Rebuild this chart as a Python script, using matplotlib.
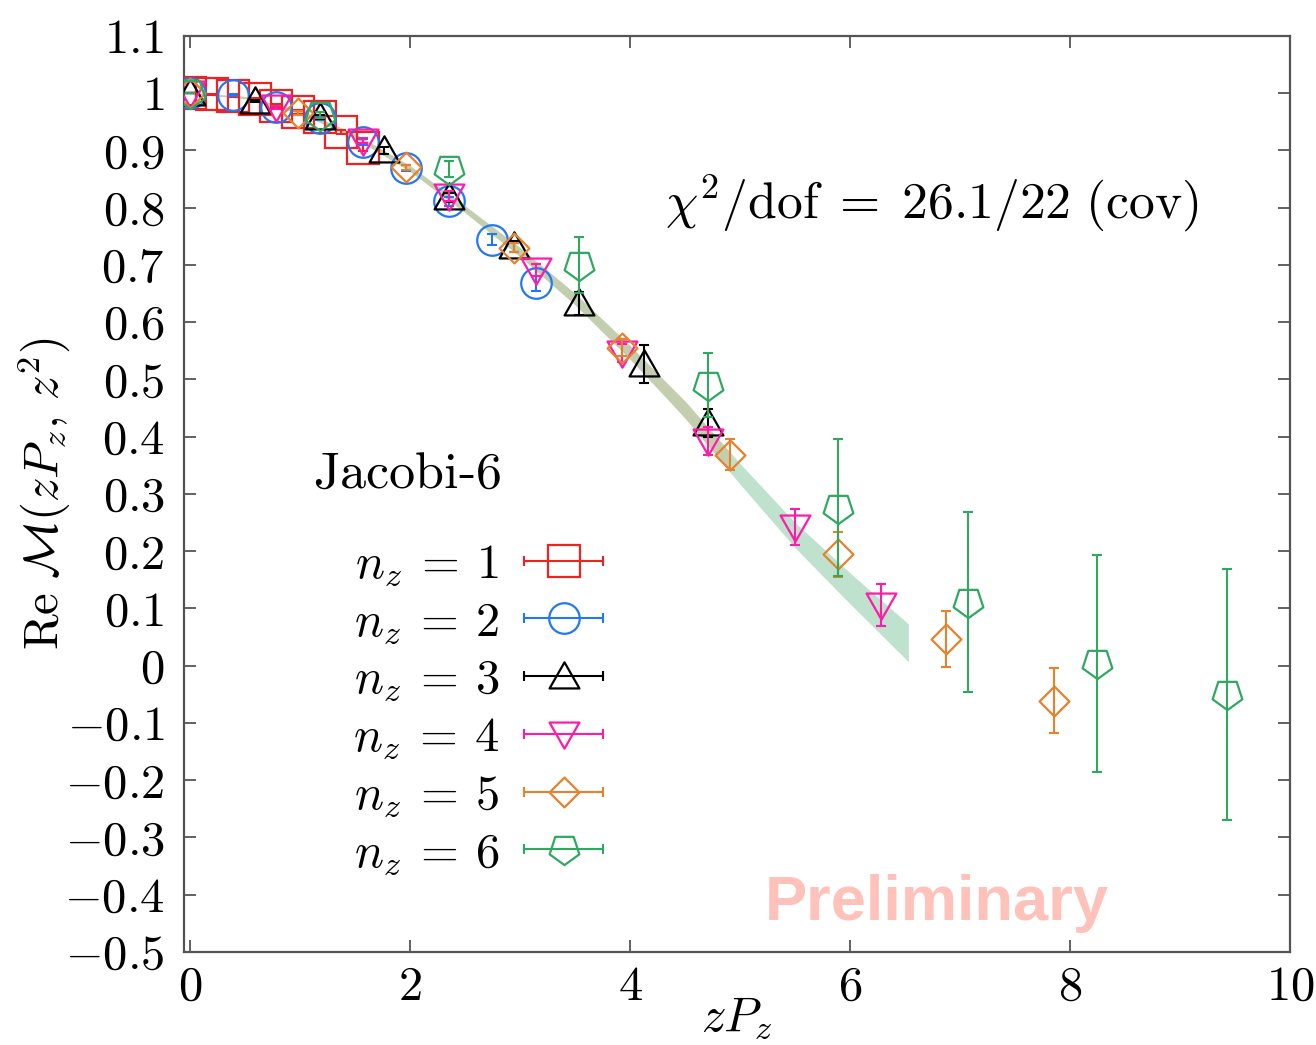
import numpy as np
import matplotlib
matplotlib.use('Agg')
import matplotlib.pyplot as plt
from matplotlib.lines import Line2D
from matplotlib.path import Path
from matplotlib.legend_handler import HandlerBase

plt.rcParams['mathtext.fontset'] = 'cm'
plt.rcParams['font.family'] = ['cmr10', 'DejaVu Sans']
plt.rcParams['axes.formatter.use_mathtext'] = True

# ---------------- data ----------------
labels = [r"$n_z\:=\:1$", r"$n_z\:=\:2$", r"$n_z\:=\:3$", r"$n_z\:=\:4$", r"$n_z\:=\:5$", r"$n_z\:=\:6$"]

x_n1 = [0.0, 0.196, 0.393, 0.589, 0.785, 0.982, 1.178, 1.374, 1.571]
y_n1 = [1.0, 0.998, 0.995, 0.990, 0.977, 0.967, 0.958, 0.932, 0.904]
e_n1 = [0.0, 0.001, 0.002, 0.002, 0.003, 0.003, 0.004, 0.004, 0.005]

x_n2 = [0.0, 0.393, 0.785, 1.178, 1.571, 1.963, 2.356, 2.749, 3.142]
y_n2 = [1.0, 0.996, 0.975, 0.956, 0.915, 0.869, 0.811, 0.744, 0.668]
e_n2 = [0.0, 0.002, 0.003, 0.004, 0.005, 0.006, 0.008, 0.009, 0.013]

x_n3 = [0.0, 0.589, 1.178, 1.767, 2.356, 2.945, 3.534, 4.123, 4.712]
y_n3 = [1.0, 0.986, 0.958, 0.900, 0.818, 0.732, 0.633, 0.527, 0.424]
e_n3 = [0.0, 0.002, 0.004, 0.006, 0.008, 0.010, 0.020, 0.033, 0.025]

x_n4 = [0.0, 0.785, 1.571, 2.356, 3.142, 3.927, 4.712, 5.498, 6.283]
y_n4 = [1.0, 0.975, 0.917, 0.820, 0.691, 0.546, 0.392, 0.242, 0.106]
e_n4 = [0.0, 0.003, 0.005, 0.008, 0.010, 0.015, 0.025, 0.031, 0.037]

x_n5 = [0.0, 0.982, 1.963, 2.945, 3.927, 4.909, 5.890, 6.872, 7.854]
y_n5 = [1.0, 0.965, 0.870, 0.730, 0.555, 0.368, 0.1945, 0.047, -0.061]
e_n5 = [0.0, 0.003, 0.005, 0.008, 0.015, 0.027, 0.039, 0.049, 0.057]

x_n6 = [0.0, 1.178, 2.356, 3.534, 4.712, 5.890, 7.069, 8.247, 9.425]
y_n6 = [1.0, 0.962, 0.867, 0.700, 0.490, 0.276, 0.1105, 0.004, -0.050]
e_n6 = [0.0, 0.005, 0.014, 0.049, 0.056, 0.120, 0.157, 0.190, 0.219]

# fit band
band_x = [0.0, 0.5, 1.0, 1.5, 2.0, 2.5, 3.0, 3.5, 4.0, 4.3, 4.5, 4.91, 5.0, 5.5, 6.0, 6.53]
band_c = [1.0, 0.992, 0.967, 0.925, 0.868, 0.797, 0.722, 0.640, 0.547, 0.487, 0.447, 0.355, 0.335, 0.228, 0.135, 0.040]
band_h = [0.001, 0.002, 0.003, 0.004, 0.005, 0.006, 0.008, 0.010, 0.012, 0.0135, 0.015, 0.0175, 0.018, 0.022, 0.027, 0.033]

yticks = [1.1, 1.0, 0.9, 0.8, 0.7, 0.6, 0.5, 0.4, 0.3, 0.2, 0.1, 0.0, -0.1, -0.2, -0.3, -0.4, -0.5]
ytick_labels = ["1.1", "1", "0.9", "0.8", "0.7", "0.6", "0.5", "0.4", "0.3", "0.2", "0.1", "0",
                "-0.1", "-0.2", "-0.3", "-0.4", "-0.5"]
xticks = [0, 2, 4, 6, 8, 10]
xtick_labels = ["0", "2", "4", "6", "8", "10"]

# ---------------- style ----------------
colors = ['#ee2222', '#2277f5', '#000000', '#ff1aa8', '#e8812c', '#30a860']

tri_up = Path([(-1, -0.8), (1, -0.8), (0, 0.95), (-1, -0.8)], closed=True)
tri_dn = Path([(-1, 0.8), (1, 0.8), (0, -0.95), (-1, 0.8)], closed=True)
diamond = Path([(0, 1), (1, 0), (0, -1), (-1, 0), (0, 1)], closed=True)
ang = np.deg2rad(-90 + 72 * np.arange(5))
pent_v = [(np.cos(a), np.sin(a)) for a in ang]
pentagon = Path(pent_v + [pent_v[0]], closed=True)

markers = ['s', 'o', tri_up, tri_dn, diamond, pentagon]
msizes = [23, 22, 21.5, 21.5, 21.5, 22.5]

FS = 35

fig = plt.figure(figsize=(13.16, 10.45), dpi=100)
ax = fig.add_axes([184 / 1316, 1 - 952 / 1045, (1290 - 184) / 1316, (952 - 35.7) / 1045])

bx = np.array(band_x)
bc = np.array(band_c)
bh = np.array(band_h)
ax.fill_between(bx, bc - bh, bc + bh, color='#2ca25f', alpha=0.3, lw=0, zorder=1)
ax.fill_between(bx, bc - bh, bc + bh, where=bx <= 4.91, color='#d08030', alpha=0.2, lw=0, zorder=1)

xs = [x_n1, x_n2, x_n3, x_n4, x_n5, x_n6]
ys = [y_n1, y_n2, y_n3, y_n4, y_n5, y_n6]
es = [e_n1, e_n2, e_n3, e_n4, e_n5, e_n6]

handles = []
for i in range(6):
    ax.errorbar(xs[i], ys[i], yerr=es[i], fmt='none', ecolor=colors[i], elinewidth=1.5,
                capsize=3.7, capthick=1.5, zorder=3 + i)
    ln, = ax.plot(xs[i], ys[i], ls='none', marker=markers[i], ms=msizes[i], mfc='none',
                  mec=colors[i], mew=1.6, zorder=3 + i)
    handles.append((ln, colors[i]))


class HandlerEB(HandlerBase):
    def create_artists(self, legend, orig_handle, xdescent, ydescent, width, height, fontsize, trans):
        ln, c = orig_handle
        y = (height - ydescent) / 2
        x0, x1 = -xdescent, width - xdescent
        bar = Line2D([x0, x1], [y, y], color=c, lw=1.5, marker='|', markersize=7.4, mew=1.5)
        mk = Line2D([(x0 + x1) / 2], [y], ls='none', marker=ln.get_marker(), markersize=ln.get_markersize(),
                    mfc='none', mec=c, mew=1.6)
        bar.set_transform(trans)
        mk.set_transform(trans)
        return [bar, mk]


class EBProxy(tuple):
    pass


proxies = [EBProxy(h) for h in handles]
leg = ax.legend(proxies, labels, handler_map={EBProxy: HandlerEB()}, loc='center left',
                bbox_to_anchor=((353 - 184) / 1106, (952 - 710) / 916.3), frameon=False,
                markerfirst=False, fontsize=FS, handlelength=1.63, handletextpad=0.5,
                labelspacing=0.27, borderpad=0, borderaxespad=0)

ax.text((313 - 184) / 1106, (952 - 488) / 916.3, r"$\mathrm{Jacobi}$-6", transform=ax.transAxes,
        fontsize=37.5, va='baseline', ha='left', family=['cmr10', 'DejaVu Sans'])
ax.text((665 - 184) / 1106, (952 - 218) / 916.3, r"$\chi^2/\mathrm{dof}\;=\;26.1/22\ (\mathrm{cov})$",
        transform=ax.transAxes, fontsize=37.2, va='baseline', ha='left')
ax.text((765 - 184) / 1106, (952 - 920) / 916.3, "Preliminary", transform=ax.transAxes,
        fontsize=45.5, fontweight='bold', color='#ffc2ba', family='Liberation Sans',
        va='baseline', ha='left', zorder=2)

ax.set_xlim(-0.055, 10)
ax.set_ylim(-0.5, 1.1)
ax.set_xticks(xticks)
ax.set_xticklabels(["$" + s + "$" for s in xtick_labels])
ax.set_yticks(yticks)
ax.set_yticklabels(["$" + s + "$" for s in ytick_labels])
ax.tick_params(direction='in', length=8.5, width=1.3, color='#555555', labelsize=FS,
               top=True, right=True, pad=10)
ax.tick_params(axis='y', pad=14)
ax.minorticks_off()
for s in ax.spines.values():
    s.set_color('#555555')
    s.set_linewidth(1.6)

ax.set_xlabel(r"$zP_z$", fontsize=FS)
ax.xaxis.set_label_coords(0.5, (952 - 995) / 916.3)
ax.set_ylabel(r"$\mathrm{Re}\ \mathcal{M}(zP_z,\,z^2)$", fontsize=FS)
ax.yaxis.set_label_coords((72 - 184) / 1106, 0.5)

fig.savefig('out.png', dpi=100)
